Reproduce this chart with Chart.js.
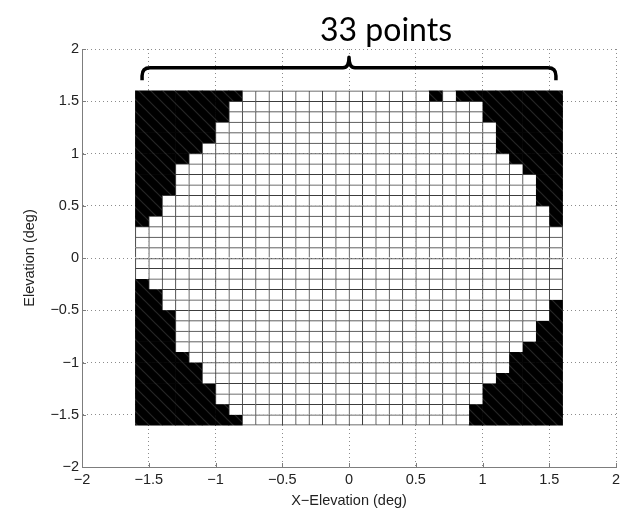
<!DOCTYPE html>
<html><head><meta charset="utf-8">
<script src="https://cdn.jsdelivr.net/npm/chart.js@4.4.1/dist/chart.umd.min.js"></script>
<style>html,body{margin:0;padding:0;background:#fff;}#wrap{width:627px;height:510px;position:relative;}</style>
</head><body><div id="wrap"><canvas id="c" width="627" height="510"></canvas></div>
<script>
// 33 grid points along each axis (cell edges)
const xPoints = [-1.6,-1.5,-1.4,-1.3,-1.2,-1.1,-1.0,-0.9,-0.8,-0.7,-0.6,-0.5,-0.4,-0.3,-0.2,-0.1,0,0.1,0.2,0.3,0.4,0.5,0.6,0.7,0.8,0.9,1.0,1.1,1.2,1.3,1.4,1.5,1.6];
const yPoints = [1.6,1.5,1.4,1.3,1.2,1.1,1.0,0.9,0.8,0.7,0.6,0.5,0.4,0.3,0.2,0.1,0,-0.1,-0.2,-0.3,-0.4,-0.5,-0.6,-0.7,-0.8,-0.9,-1.0,-1.1,-1.2,-1.3,-1.4,-1.5,-1.6];
// for each row (top to bottom) first and last column index of the valid (white) span
const rowFirstWhite = [8,7,7,6,6,5,4,3,3,3,2,2,1,0,0,0,0,0,1,2,2,3,3,3,3,4,5,5,6,6,7,8];
const rowLastWhite  = [23,25,25,26,26,26,27,28,29,29,29,30,30,31,31,31,31,31,31,31,30,30,29,29,28,27,27,26,25,25,24,24];
// invalid cells inside a white span: [row, col]
const blackGaps = [[0,22]];
const tickValues = [-2,-1.5,-1,-0.5,0,0.5,1,1.5,2];
const xTitle = 'X\u2212Elevation (deg)';
const yTitle = 'Elevation (deg)';
const braceLabel = '33 points';
const braceSpan = [-1.55, 0, 1.55];     // left end, tip, right end (x)
const braceLevels = [1.70, 1.82, 1.92]; // ends, bar, tip (y)

const nCols = xPoints.length - 1, nRows = yPoints.length - 1;
const whiteCells = [], blackCells = [];
for (let r = 0; r < nRows; r++) {
  for (let c = 0; c < nCols; c++) {
    const xc = Math.round((xPoints[c] + xPoints[c+1]) / 2 * 1000) / 1000;
    const cell = {x: xc, y: [yPoints[r+1], yPoints[r]], r: r, c: c};
    const gap = blackGaps.some(g => g[0] === r && g[1] === c);
    if (c >= rowFirstWhite[r] && c <= rowLastWhite[r] && !gap) whiteCells.push(cell);
    else blackCells.push(cell);
  }
}

// faint diagonal hatch seen in the black area
const pc = document.createElement('canvas');
pc.width = 12; pc.height = 12;
const pctx = pc.getContext('2d');
pctx.fillStyle = '#000'; pctx.fillRect(0,0,12,12);
pctx.strokeStyle = '#262626'; pctx.lineWidth = 1.2;
for (const k of [-12,0,12]) { pctx.beginPath(); pctx.moveTo(k-1,-1); pctx.lineTo(k+13,13); pctx.stroke(); }
const hatch = document.getElementById('c').getContext('2d').createPattern(pc, 'repeat');

const fmt = v => (v < 0 ? '\u2212' + Math.abs(v) : String(v));
const axisColor = '#7d7d7d';
const tickFont = {family: 'Liberation Sans', size: 14.5};

const innerTicks = {
  id: 'innerTicks',
  afterDatasetsDraw(chart) {
    const {ctx, chartArea: a, scales: {x, y}} = chart;
    ctx.save(); ctx.strokeStyle = axisColor; ctx.lineWidth = 1;
    ctx.beginPath();
    tickValues.forEach(v => {
      const px = Math.round(x.getPixelForValue(v)) + 0.5;
      ctx.moveTo(px, a.bottom); ctx.lineTo(px, a.bottom - 4);
      const py = Math.round(y.getPixelForValue(v)) + 0.5;
      ctx.moveTo(a.left, py); ctx.lineTo(a.left + 4, py);
    });
    ctx.stroke(); ctx.restore();
  }
};
const brace = {
  id: 'brace',
  afterDraw(chart) {
    const {ctx, scales: {x, y}} = chart;
    const x0 = x.getPixelForValue(braceSpan[0]), xm = x.getPixelForValue(braceSpan[1]), x1 = x.getPixelForValue(braceSpan[2]);
    const yE = y.getPixelForValue(braceLevels[0]), yH = y.getPixelForValue(braceLevels[1]), yT = y.getPixelForValue(braceLevels[2]);
    const r = 8;
    ctx.save();
    ctx.strokeStyle = '#000'; ctx.lineWidth = 3.5; ctx.lineJoin = 'round';
    ctx.beginPath();
    ctx.moveTo(x0, yE); ctx.lineTo(x0, yH + r);
    ctx.quadraticCurveTo(x0, yH, x0 + r, yH);
    ctx.lineTo(xm - 6, yH);
    ctx.quadraticCurveTo(xm, yH, xm, yT);
    ctx.quadraticCurveTo(xm, yH, xm + 6, yH);
    ctx.lineTo(x1 - r, yH);
    ctx.quadraticCurveTo(x1, yH, x1, yH + r);
    ctx.lineTo(x1, yE);
    ctx.stroke();
    ctx.fillStyle = '#000'; ctx.font = '32px Lato';
    ctx.textAlign = 'center'; ctx.textBaseline = 'alphabetic';
    ctx.fillText(braceLabel, xm + 37, 41);
    ctx.restore();
  }
};

new Chart(document.getElementById('c'), {
  type: 'bar',
  data: {
    datasets: [
      {data: whiteCells, backgroundColor: '#ffffff', borderColor: '#3c3c3c', borderSkipped: false,
       borderWidth: ctx => ({top: 1, left: 1, right: ctx.raw && ctx.raw.c === nCols - 1 ? 1 : 0, bottom: ctx.raw && ctx.raw.r === nRows - 1 ? 1 : 0}),
       grouped: false, barPercentage: 1, categoryPercentage: 1},
      {data: blackCells, backgroundColor: hatch, borderWidth: 0, grouped: false, barPercentage: 1, categoryPercentage: 1}
    ]
  },
  options: {
    responsive: false, animation: false, devicePixelRatio: 1,
    layout: {padding: {top: 49, right: 11, left: 0, bottom: 0}},
    plugins: {legend: {display: false}, tooltip: {enabled: false}},
    scales: {
      x: {
        type: 'linear', min: -2, max: 2, offset: false,
        grid: {offset: false, color: '#8c8c8c', drawTicks: false, lineWidth: 1},
        border: {display: true, color: axisColor, width: 1, dash: [1, 3]},
        afterBuildTicks: s => { s.ticks = tickValues.map(v => ({value: v})); },
        afterFit: s => { s.height = 43; },
        ticks: {padding: 4, font: tickFont, color: '#222', maxRotation: 0, autoSkip: false, callback: v => fmt(v)},
        title: {display: true, text: xTitle, font: tickFont, color: '#222', padding: {top: 0, bottom: 0}}
      },
      y: {
        type: 'linear', min: -2, max: 2, beginAtZero: false,
        grid: {color: '#8c8c8c', drawTicks: false, lineWidth: 1},
        border: {display: true, color: axisColor, width: 1, dash: [1, 3]},
        afterBuildTicks: s => { s.ticks = tickValues.map(v => ({value: v})); },
        afterFit: s => { s.width = 82; },
        ticks: {padding: 3, font: tickFont, color: '#222', autoSkip: false, callback: v => fmt(v)},
        title: {display: true, text: yTitle, font: tickFont, color: '#222', padding: {top: 21, bottom: 0}}
      }
    }
  },
  plugins: [innerTicks, brace]
});
</script></body></html>
